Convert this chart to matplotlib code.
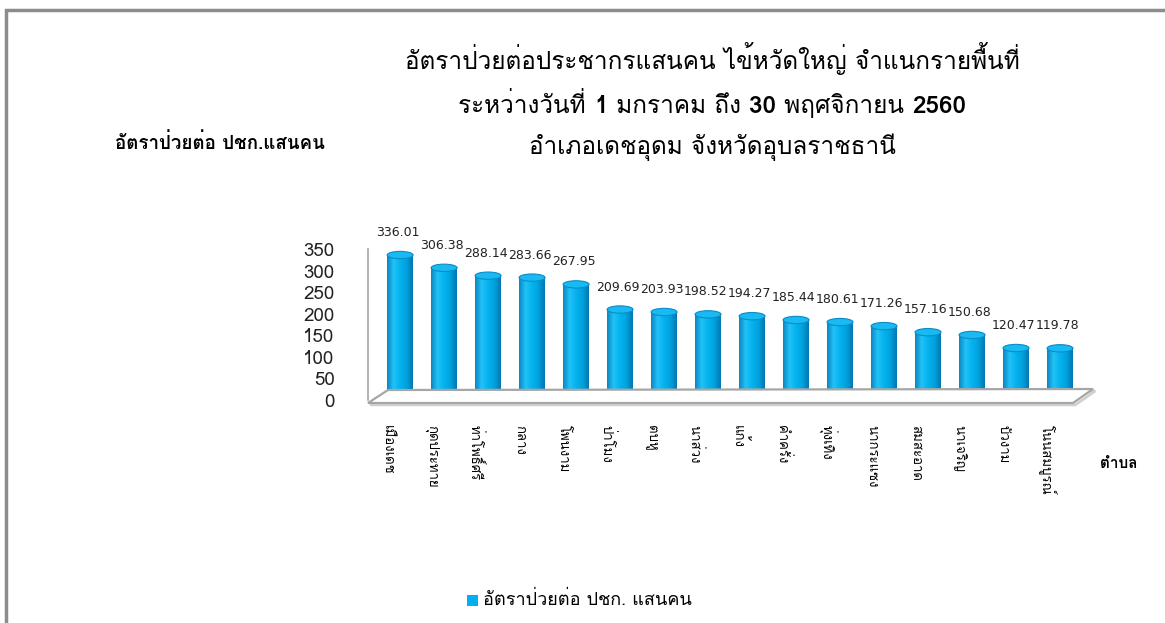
import numpy as np
import matplotlib
matplotlib.use("Agg")
from matplotlib import pyplot as plt
from matplotlib import font_manager
from matplotlib.patches import Ellipse, Polygon, Rectangle
from matplotlib.colors import LinearSegmentedColormap

tambons = ["เมืองเดช", "กุดประทาย", "ท่าโพธิ์ศรี", "กลาง", "โพนงาม", "ป่าโมง",
           "ตบหู", "นาส่วง", "แก้ง", "คำครั่ง", "ทุ่งเทิง", "นากระแซง",
           "สมสะอาด", "นาเจริญ", "บัวงาม", "โนนสมบูรณ์"]
rates = [336.01, 306.38, 288.14, 283.66, 267.95, 209.69, 203.93, 198.52,
         194.27, 185.44, 180.61, 171.26, 157.16, 150.68, 120.47, 119.78]
y_ticks = [0, 50, 100, 150, 200, 250, 300, 350]

# (text, bold) pieces for each title line
title_lines = [
    [("อัตราป่วยต่อประชากรแสนคน ไข้หวัดใหญ่ จำแนกรายพื้นที่", False)],
    [("ระหว่างวันที่ ", False), ("1", True), (" มกราคม ถึง ", False), ("30", True),
     (" พฤศจิกายน ", False), ("2560", True)],
    [("อำเภอเดชอุดม จังหวัดอุบลราชธานี", False)],
]
y_label = "อัตราป่วยต่อ ปชก.แสนคน"
x_label = "ตำบล"
legend_label = "อัตราป่วยต่อ ปชก. แสนคน"


def find_thai_font():
    """Look for an installed family that has Thai glyphs."""
    try:
        from fontTools.ttLib import TTFont
    except ImportError:
        return None
    for f in font_manager.fontManager.ttflist:
        try:
            tt = TTFont(f.fname, fontNumber=0, lazy=True)
            cmap = tt.getBestCmap()
            if cmap and 0x0E01 in cmap and 0x0E33 in cmap:
                return f.name
        except Exception:
            continue
    return None


thai = find_thai_font()
plt.rcParams["font.family"] = ([thai] if thai else []) + ["DejaVu Sans"]

W, H = 1165, 623
fig = plt.figure(figsize=(W / 100, H / 100), dpi=100)


def fx(px):
    return px / W


def fy(py):
    return 1 - py / H


# outer frame
fig.patches.append(Rectangle((fx(6), fy(H + 5)), fx(W + 5), fy(10) - fy(H + 5),
                             transform=fig.transFigure, fill=False,
                             edgecolor="#8c8c8c", linewidth=2.5))

ax_l, ax_r, ax_t, ax_b = 368, 1093, 249, 400
ax = fig.add_axes([fx(ax_l), fy(ax_b), fx(ax_r - ax_l), fy(ax_t) - fy(ax_b)])
ax.patch.set_alpha(0)

# floor of the 3D chart
floor = [(368, 403), (388, 390), (1093, 389), (1073, 403)]
fig.patches.append(Polygon([(fx(a) + 0.002, fy(b) - 0.003) for a, b in floor],
                           closed=True, transform=fig.transFigure,
                           facecolor="none", edgecolor="#d0d0d0", linewidth=2, zorder=0))
fig.patches.append(Polygon([(fx(a), fy(b)) for a, b in floor], closed=True,
                           transform=fig.transFigure, facecolor="white",
                           edgecolor="#a6a6a6", linewidth=1.6, zorder=0))

x = np.arange(len(tambons))
width = 0.59
cyl = LinearSegmentedColormap.from_list(
    "cyl", ["#0a86c2", "#22c2f8", "#05b2ee", "#00a2de", "#0077b2"])
grad = np.linspace(0, 1, 64).reshape(1, -1)
bars = ax.bar(x, rates, width=width, color="#00b0f0", zorder=2)
for rect, v in zip(bars, rates):
    x0 = rect.get_x()
    ax.add_patch(Ellipse((x0 + width / 2, 0), width, 17, facecolor="#0095d2",
                         edgecolor="none", zorder=1.5, clip_on=False))
    im = ax.imshow(grad, cmap=cyl, aspect="auto", extent=(x0, x0 + width, 0, v),
                   zorder=2.5, clip_on=False)
    im.set_clip_path(rect)
    ax.add_patch(Ellipse((x0 + width / 2, v), width, 17, facecolor="#19b9f2",
                         edgecolor="#0a8cc8", linewidth=0.8, zorder=3, clip_on=False))
    ax.text(x0 + width / 2 - 0.05, v + 52, f"{v:.2f}", ha="center", va="center",
            fontsize=9, color="#222222", family="DejaVu Sans", zorder=4)
ax.set_xlim(-0.73, 15.75)
ax.set_ylim(0, 350)

for s in ["top", "right", "bottom"]:
    ax.spines[s].set_visible(False)
ax.spines["left"].set_color("#a6a6a6")
ax.spines["left"].set_linewidth(1.2)
ax.set_yticks(y_ticks)
ax.set_yticklabels([str(t) for t in y_ticks], fontsize=13.5, color="#222222")
ax.tick_params(axis="y", length=0, pad=24)
ax.set_xticks(x - 0.3)
ax.set_xticklabels(tambons, rotation=-90, fontsize=9.5, va="top", ha="center")
ax.tick_params(axis="x", length=0, pad=18)

# title lines, built from pieces so the numbers can be bold
renderer = fig.canvas.get_renderer()
title_y = [69, 113, 154]
for pieces, py in zip(title_lines, title_y):
    texts = [fig.text(0, fy(py), s, ha="left", va="baseline", fontsize=17.5,
                      fontweight="bold" if b else "normal", color="black")
             for s, b in pieces]
    widths = [t.get_window_extent(renderer).width for t in texts]
    left = 712 - sum(widths) / 2
    for t, w in zip(texts, widths):
        t.set_x(fx(left))
        left += w

fig.text(fx(115), fy(143), y_label, ha="left", va="center", fontsize=13.5,
         fontweight="bold")
fig.text(fx(1100), fy(464), x_label, ha="left", va="center", fontsize=11,
         fontweight="bold")

fig.patches.append(Rectangle((fx(467), fy(606)), fx(11), fy(595) - fy(606),
                             transform=fig.transFigure, facecolor="#00b0f0",
                             edgecolor="none"))
fig.text(fx(483), fy(600), legend_label, ha="left", va="center", fontsize=13)

fig.savefig("out.png", dpi=100)
